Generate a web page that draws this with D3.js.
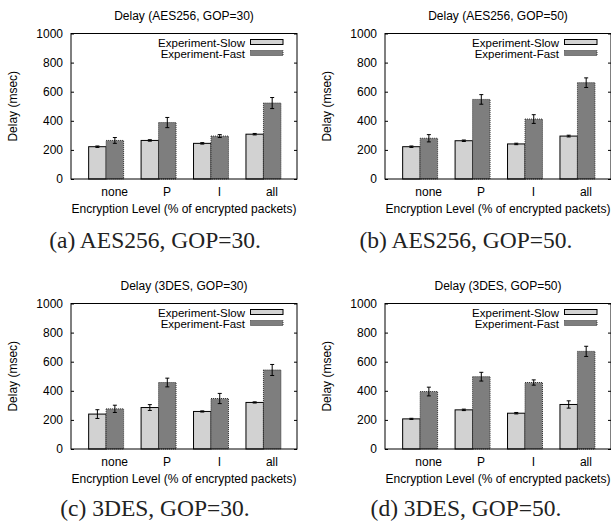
<!DOCTYPE html>
<html>
<head>
<meta charset="utf-8">
<script src="https://cdn.jsdelivr.net/npm/d3@7"></script>
<style>
  body { margin: 0; background: #fff; }
  text { font-family: "Liberation Sans", Arial, sans-serif; }
</style>
</head>
<body>
<div id="chart"></div>
<script>
// categories and series
var categories = ['none', 'P', 'I', 'all']
var seriesNames = ['Experiment-Slow', 'Experiment-Fast']
var yTicks = [0, 200, 400, 600, 800, 1000]

var titles = ['Delay (AES256, GOP=30)', 'Delay (AES256, GOP=50)', 'Delay (3DES, GOP=30)', 'Delay (3DES, GOP=50)']
var captions = ['(a) AES256, GOP=30.', '(b) AES256, GOP=50.', '(c) 3DES, GOP=30.', '(d) 3DES, GOP=50.']

// (a) AES256, GOP=30
var slowA = [222, 265, 245, 308]
var slowErrA = [5, 5, 5, 5]
var fastA = [265, 388, 295, 522]
var fastErrA = [20, 35, 10, 38]

// (b) AES256, GOP=50
var slowB = [222, 263, 241, 295]
var slowErrB = [5, 5, 5, 6]
var fastB = [280, 547, 412, 662]
var fastErrB = [25, 33, 30, 33]

// (c) 3DES, GOP=30
var slowC = [240, 285, 258, 320]
var slowErrC = [30, 20, 4, 4]
var fastC = [276, 457, 347, 543]
var fastErrC = [25, 30, 35, 38]

// (d) 3DES, GOP=50
var slowD = [207, 269, 246, 306]
var slowErrD = [4, 5, 5, 25]
var fastD = [395, 497, 457, 671]
var fastErrD = [30, 30, 18, 35]

var panels = [
  { title: titles[0], caption: captions[0], slow: slowA, slowErr: slowErrA, fast: fastA, fastErr: fastErrA, dx: 0, dy: 0, cx: 155, cy: 248 },
  { title: titles[1], caption: captions[1], slow: slowB, slowErr: slowErrB, fast: fastB, fastErr: fastErrB, dx: 314, dy: 0, cx: 152, cy: 248 },
  { title: titles[2], caption: captions[2], slow: slowC, slowErr: slowErrC, fast: fastC, fastErr: fastErrC, dx: 0, dy: 270, cx: 155, cy: 246 },
  { title: titles[3], caption: captions[3], slow: slowD, slowErr: slowErrD, fast: fastD, fastErr: fastErrD, dx: 314, dy: 270, cx: 152, cy: 246 }
]

var width = 611, height = 521
var plot = { left: 71, top: 33.5, width: 226, height: 145.5 }

var svg = d3.select('#chart')
  .append('svg')
  .attr('width', width)
  .attr('height', height)

svg.append('rect')
  .attr('width', width)
  .attr('height', height)
  .attr('fill', '#fff')

var xScale = d3.scaleLinear()
  .domain([-0.67, 3.64])
  .range([0, plot.width])

var yScale = d3.scaleLinear()
  .domain([0, 1000])
  .range([plot.height, 0])

var barW = xScale(1 / 3) - xScale(0)
var slowFill = '#d2d2d2'
var fastFill = '#7e7e7e'

panels.forEach(function(p) {
  var outer = svg.append('g')
    .attr('transform', `translate(${p.dx},${p.dy})`)

  // title
  outer.append('text')
    .attr('x', plot.left + plot.width / 2)
    .attr('y', 19.5)
    .attr('text-anchor', 'middle')
    .style('font-size', '12px')
    .text(p.title)

  // y axis title
  outer.append('text')
    .attr('transform', `translate(17,${plot.top + plot.height / 2}) rotate(-90)`)
    .attr('text-anchor', 'middle')
    .style('font-size', '12px')
    .text('Delay (msec)')

  // x axis title
  outer.append('text')
    .attr('x', plot.left + plot.width / 2)
    .attr('y', 213)
    .attr('text-anchor', 'middle')
    .style('font-size', '12px')
    .text('Encryption Level (% of encrypted packets)')

  // caption
  outer.append('text')
    .attr('x', p.cx)
    .attr('y', p.cy)
    .attr('text-anchor', 'middle')
    .style('font-family', '"Liberation Serif", "Times New Roman", serif')
    .style('font-size', '23.5px')
    .style('fill', '#222')
    .text(p.caption)

  var g = outer.append('g')
    .attr('transform', `translate(${plot.left},${plot.top})`)

  // left axis with inward ticks
  var yAxis = d3.axisLeft(yScale)
    .tickValues(yTicks)
    .tickFormat(d3.format('d'))
    .tickSizeInner(-3)
    .tickSizeOuter(0)
    .tickPadding(8)

  var ya = g.append('g')
    .attr('class', 'y-axis')
    .call(yAxis)
  ya.select('.domain').remove()
  ya.selectAll('text')
    .style('font-family', '"Liberation Sans", Arial, sans-serif')
    .style('font-size', '12px')
    .style('fill', '#000')

  // mirrored ticks on the right
  var yAxisR = d3.axisRight(yScale)
    .tickValues(yTicks)
    .tickSizeInner(-3)
    .tickSizeOuter(0)
    .tickFormat('')
  var yr = g.append('g')
    .attr('transform', `translate(${plot.width},0)`)
    .call(yAxisR)
  yr.select('.domain').remove()

  // category labels
  var xAxis = d3.axisBottom(xScale)
    .tickValues(d3.range(categories.length))
    .tickFormat(function(i) { return categories[i] })
    .tickSize(0)
    .tickPadding(8)
  var xa = g.append('g')
    .attr('transform', `translate(8,${plot.height})`)
    .call(xAxis)
  xa.select('.domain').remove()
  xa.selectAll('text')
    .style('font-family', '"Liberation Sans", Arial, sans-serif')
    .style('font-size', '12px')
    .style('fill', '#000')

  // bars
  var rows = categories.map(function(c, i) {
    return { i: i, slow: p.slow[i], slowErr: p.slowErr[i], fast: p.fast[i], fastErr: p.fastErr[i] }
  })

  g.selectAll('.bar-slow')
    .data(rows)
    .enter()
    .append('rect')
    .attr('class', 'bar-slow')
    .attr('x', function(d) { return xScale(d.i - 1 / 3) })
    .attr('y', function(d) { return yScale(d.slow) })
    .attr('width', barW)
    .attr('height', function(d) { return plot.height - yScale(d.slow) })
    .attr('fill', slowFill)
    .attr('stroke', '#000')
    .attr('stroke-width', 1)

  g.selectAll('.bar-fast')
    .data(rows)
    .enter()
    .append('rect')
    .attr('class', 'bar-fast')
    .attr('x', function(d) { return xScale(d.i) })
    .attr('y', function(d) { return yScale(d.fast) })
    .attr('width', barW)
    .attr('height', function(d) { return plot.height - yScale(d.fast) })
    .attr('fill', fastFill)
    .attr('stroke', '#333')
    .attr('stroke-width', 1)
    .attr('stroke-dasharray', '1,1')

  // error bars
  var errs = []
  rows.forEach(function(d) {
    errs.push({ x: xScale(d.i - 1 / 6), v: d.slow, e: d.slowErr })
    errs.push({ x: xScale(d.i + 1 / 6), v: d.fast, e: d.fastErr })
  })
  var eg = g.selectAll('.err')
    .data(errs)
    .enter()
    .append('g')
    .attr('class', 'err')
    .attr('stroke', '#000')
    .attr('stroke-width', 1)
  eg.append('line')
    .attr('x1', function(d) { return d.x }).attr('x2', function(d) { return d.x })
    .attr('y1', function(d) { return yScale(d.v - d.e) })
    .attr('y2', function(d) { return yScale(d.v + d.e) })
  eg.append('line')
    .attr('x1', function(d) { return d.x - 2 }).attr('x2', function(d) { return d.x + 2 })
    .attr('y1', function(d) { return yScale(d.v - d.e) })
    .attr('y2', function(d) { return yScale(d.v - d.e) })
  eg.append('line')
    .attr('x1', function(d) { return d.x - 2 }).attr('x2', function(d) { return d.x + 2 })
    .attr('y1', function(d) { return yScale(d.v + d.e) })
    .attr('y2', function(d) { return yScale(d.v + d.e) })

  // frame
  g.append('rect')
    .attr('width', plot.width)
    .attr('height', plot.height)
    .attr('fill', 'none')
    .attr('stroke', '#000')
    .attr('stroke-width', 1)

  // legend
  var legend = g.append('g')
    .attr('class', 'legend')
  seriesNames.forEach(function(name, k) {
    var ly = 6 + k * 11
    legend.append('text')
      .attr('x', plot.width - 52)
      .attr('y', ly + 7)
      .attr('text-anchor', 'end')
      .style('font-size', '11.5px')
      .text(name)
    legend.append('rect')
      .attr('x', plot.width - 46.5)
      .attr('y', ly)
      .attr('width', 32.5)
      .attr('height', 5)
      .attr('fill', k === 0 ? slowFill : fastFill)
      .attr('stroke', k === 0 ? '#000' : '#333')
      .attr('stroke-dasharray', k === 0 ? null : '1,1')
  })
})
</script>
</body>
</html>
